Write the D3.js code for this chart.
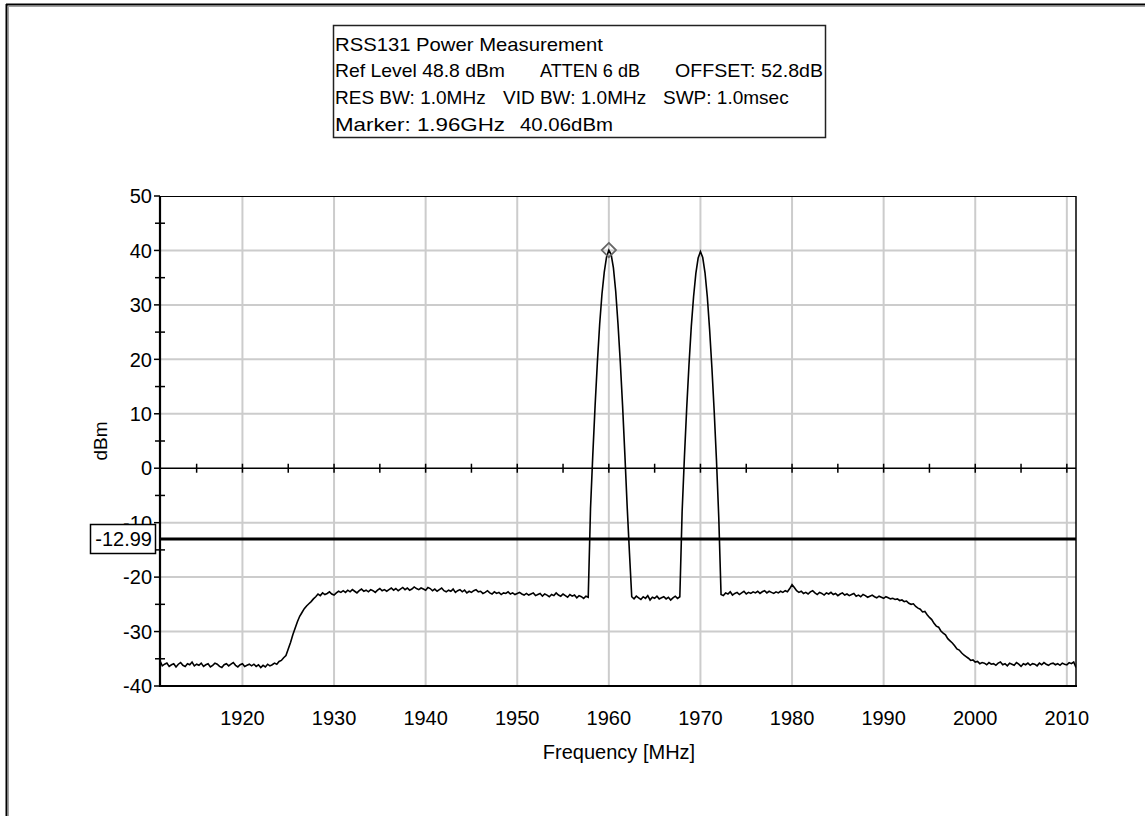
<!DOCTYPE html>
<html><head><meta charset="utf-8">
<script src="https://cdn.jsdelivr.net/npm/d3@7"></script>
<style>
body{margin:0;background:#fff}
svg{display:block}
text{font-family:"Liberation Sans",Arial,sans-serif;fill:#000}
</style>
</head><body>
<svg id="c" width="1145" height="816"></svg>
<script>
// ---- data ----
const freqStart = 1911;      // MHz, first sample
const freqStep = 0.25;       // MHz between samples
const traceDbm = [
 -35.4,-36.3,-36.0,-35.8,-36.4,-36.1,-35.9,-36.5,-36.0,-35.7,-36.2,-36.4,-35.9,-36.1,-35.6,-36.3,-36.0,-36.2,-35.8,-36.4,
 -36.1,-35.9,-36.5,-36.2,-35.8,-36.0,-36.4,-36.6,-36.1,-35.9,-36.3,-36.0,-35.7,-36.2,-36.5,-36.1,-35.9,-36.4,-36.2,-36.0,
 -36.3,-36.0,-36.4,-36.1,-36.6,-36.2,-36.5,-36.0,-36.3,-36.1,-35.8,-36.0,-35.5,-35.3,-34.8,-34.4,-33.2,-32.0,-30.6,-29.4,
 -28.2,-27.2,-26.5,-25.8,-25.3,-24.9,-24.5,-24.0,-23.6,-23.1,-23.4,-22.9,-23.2,-23.0,-22.7,-23.1,-23.3,-22.9,-22.6,-22.8,
 -22.5,-22.8,-22.4,-22.7,-22.3,-22.6,-22.9,-22.5,-22.2,-22.6,-22.4,-22.7,-22.3,-22.5,-22.8,-22.4,-22.1,-22.5,-22.3,-22.6,
 -22.3,-22.0,-22.4,-22.1,-22.5,-22.2,-21.9,-22.3,-22.0,-22.4,-22.2,-21.8,-22.1,-22.3,-22.0,-22.2,-22.4,-21.9,-22.1,-22.5,
 -22.2,-22.6,-22.3,-22.0,-22.5,-22.7,-22.4,-22.6,-22.2,-22.8,-22.5,-22.3,-22.7,-22.4,-22.9,-22.6,-22.8,-22.5,-22.3,-22.7,
 -22.6,-23.0,-22.8,-22.5,-22.9,-23.1,-22.7,-23.0,-22.8,-23.2,-22.9,-23.0,-22.7,-23.1,-22.9,-23.2,-23.0,-22.8,-23.1,-23.3,
 -23.0,-23.3,-23.1,-22.9,-23.4,-23.2,-23.0,-23.5,-23.1,-23.3,-23.6,-23.2,-23.4,-22.9,-23.3,-23.5,-23.1,-23.4,-23.7,-23.2,
 -23.5,-23.3,-23.8,-23.4,-23.6,-23.9,-23.5,-23.7,-7.4,2.5,11.5,19.5,26.5,32.0,36.0,38.8,40.06,39.3,36.8,32.5,
 26.5,19.5,11.5,2.5,-7.0,-15.5,-23.6,-24.0,-23.5,-23.8,-24.1,-23.6,-23.9,-23.4,-24.2,-23.7,-23.9,-23.5,-24.0,-23.8,
 -23.6,-24.0,-23.7,-24.2,-23.8,-23.5,-23.9,-23.6,-8.0,2.0,11.0,19.0,26.0,31.5,35.8,38.6,39.8,38.7,35.9,31.5,
 25.5,18.5,10.5,1.5,-9.0,-23.2,-23.4,-22.9,-23.1,-22.7,-23.3,-23.0,-22.8,-23.2,-22.9,-22.6,-23.1,-22.8,-23.0,-22.7,
 -22.9,-22.6,-23.0,-22.7,-22.5,-22.9,-22.6,-22.8,-23.0,-22.7,-22.9,-22.6,-22.8,-22.5,-22.7,-22.1,-21.4,-21.9,-22.5,-22.8,
 -22.6,-23.0,-22.8,-23.1,-22.7,-22.5,-22.9,-23.2,-22.8,-23.0,-23.3,-22.9,-23.1,-22.8,-23.2,-23.0,-23.4,-23.1,-22.9,-23.3,
 -23.1,-23.4,-23.2,-23.0,-23.5,-23.3,-23.6,-23.2,-23.4,-23.7,-23.5,-23.3,-23.6,-23.8,-23.5,-23.7,-23.9,-23.6,-23.8,-24.0,
 -23.9,-24.1,-24.0,-24.3,-24.2,-24.5,-24.4,-24.8,-25.0,-24.9,-25.4,-25.7,-25.9,-26.4,-26.3,-26.9,-27.4,-27.8,-28.5,-29.0,
 -29.2,-29.9,-30.3,-30.6,-31.3,-31.7,-32.1,-32.6,-33.2,-33.4,-33.9,-34.3,-34.6,-34.9,-35.3,-35.2,-35.6,-35.5,-35.9,-35.7,
 -35.8,-36.1,-35.7,-36.0,-35.9,-36.2,-35.8,-35.6,-36.1,-35.9,-36.3,-35.8,-36.0,-36.2,-35.7,-36.0,-36.4,-35.9,-36.1,-35.8,
 -36.2,-35.9,-36.0,-36.3,-35.8,-36.1,-35.7,-36.0,-36.2,-35.9,-35.8,-36.1,-35.9,-36.2,-35.8,-36.0,-36.1,-35.7,-35.9,-35.6,-36.6
];
const xDomain = [1911, 2011];
const yDomain = [-40, 50];
const xTicks = [1920,1930,1940,1950,1960,1970,1980,1990,2000,2010];
const yTicks = [-40,-30,-20,-10,0,10,20,30,40,50];
const yMinorTicks = [-35,-25,-15,-5,5,15,25,35,45];
const zeroLineTicks = [1915,1920,1925,1930,1935,1940,1945,1950,1955,1960,1965,1970,1975,1980,1985,1990,1995,2000,2005,2010];
const thresholdDbm = -12.99;
const thresholdLabel = "-12.99";
const markerPoint = {freq: 1960, dbm: 40.06};
const infoLines = [
  ["RSS131 Power Measurement"],
  ["Ref Level 48.8 dBm", "ATTEN 6 dB", "OFFSET: 52.8dB"],
  ["RES BW: 1.0MHz", "VID BW: 1.0MHz", "SWP: 1.0msec"],
  ["Marker: 1.96GHz", "40.06dBm"]
];
const xLabel = "Frequency [MHz]";
const yLabel = "dBm";

// ---- layout (segment left x, segment width or null for natural) ----
const infoSegX = [[335],[335,540,675],[335,503,663],[335,520]];
const infoSegW = [[268],[170,100,148],[null,null,null],[170,93]];
const infoBaseY = [50.5,77,104,130.5];

// ---- drawing ----
const svg = d3.select("#c");
const L = 160, R = 1076, T = 196, B = 686;
const x = d3.scaleLinear().domain(xDomain).range([L, R]);
const y = d3.scaleLinear().domain(yDomain).range([B, T]);
const data = traceDbm.map((v, i) => ({f: freqStart + i * freqStep, v}));

// outer panel frame
svg.append("line").attr("x1",6).attr("x2",1145).attr("y1",4.5).attr("y2",4.5).attr("stroke","#000").attr("stroke-width",2);
svg.append("line").attr("x1",8).attr("x2",1145).attr("y1",6.5).attr("y2",6.5).attr("stroke","#a0a0a0").attr("stroke-width",1);
svg.append("line").attr("x1",6.5).attr("x2",6.5).attr("y1",4).attr("y2",816).attr("stroke","#000").attr("stroke-width",2);
svg.append("line").attr("x1",8.5).attr("x2",8.5).attr("y1",6).attr("y2",816).attr("stroke","#a0a0a0").attr("stroke-width",1);

// info box
svg.append("rect").attr("x",333.5).attr("y",25.5).attr("width",492).attr("height",112)
  .attr("fill","#fff").attr("stroke","#222").attr("stroke-width",1.5);
const infoG = svg.append("g");
infoLines.forEach((segs, li) => {
  segs.forEach((s, si) => {
    const t = infoG.append("text").attr("x", infoSegX[li][si]).attr("y", infoBaseY[li])
      .attr("font-size","19px").text(s);
    if (infoSegW[li][si]) t.attr("textLength", infoSegW[li][si]).attr("lengthAdjust","spacingAndGlyphs");
  });
});

// grid
const grid = svg.append("g").attr("stroke","#cccccc").attr("stroke-width",2);
grid.selectAll(".gx").data(xTicks).join("line")
  .attr("x1",d=>x(d)).attr("x2",d=>x(d)).attr("y1",T).attr("y2",B);
grid.selectAll(".gy").data(yTicks.filter(d=>d!==0 && d!==yDomain[0] && d!==yDomain[1])).join("line")
  .attr("x1",L).attr("x2",R).attr("y1",d=>y(d)).attr("y2",d=>y(d));

// zero line with ticks
svg.append("line").attr("x1",L).attr("x2",R).attr("y1",y(0)).attr("y2",y(0)).attr("stroke","#000").attr("stroke-width",1.5);
svg.append("g").selectAll("line").data(zeroLineTicks).join("line")
  .attr("x1",d=>x(d)).attr("x2",d=>x(d)).attr("y1",y(0)-4.5).attr("y2",y(0)+4.5)
  .attr("stroke","#000").attr("stroke-width",1.5);

// trace
svg.append("clipPath").attr("id","pc").append("rect").attr("x",L).attr("y",T-10).attr("width",R-L).attr("height",B-T+10);
svg.append("path").datum(data)
  .attr("clip-path","url(#pc)")
  .attr("fill","none").attr("stroke","#000").attr("stroke-width",1.6)
  .attr("d", d3.line().x(d=>x(d.f)).y(d=>y(d.v)));

// threshold line
svg.append("line").attr("x1",L).attr("x2",R).attr("y1",y(thresholdDbm)).attr("y2",y(thresholdDbm))
  .attr("stroke","#000").attr("stroke-width",3);

// plot frame
svg.append("line").attr("x1",L).attr("x2",R).attr("y1",T+0.5).attr("y2",T+0.5).attr("stroke","#000").attr("stroke-width",1.2);
svg.append("line").attr("x1",R).attr("x2",R).attr("y1",T).attr("y2",B).attr("stroke","#000").attr("stroke-width",1.5);
svg.append("line").attr("x1",L-1).attr("x2",R+1).attr("y1",B).attr("y2",B).attr("stroke","#000").attr("stroke-width",2.2);
svg.append("line").attr("x1",L).attr("x2",L).attr("y1",T).attr("y2",B+1).attr("stroke","#000").attr("stroke-width",2.2);

// y axis ticks + labels
svg.append("g").selectAll("line").data(yTicks).join("line")
  .attr("x1",L-6).attr("x2",L).attr("y1",d=>y(d)).attr("y2",d=>y(d))
  .attr("stroke","#000").attr("stroke-width",1.5);
svg.append("g").selectAll("line").data(yMinorTicks).join("line")
  .attr("x1",L-5).attr("x2",L+5).attr("y1",d=>y(d)).attr("y2",d=>y(d))
  .attr("stroke","#000").attr("stroke-width",1.5);
svg.append("g").selectAll("text").data(yTicks).join("text")
  .attr("x",152).attr("y",d=>y(d)).attr("dy","0.36em")
  .attr("text-anchor","end").attr("font-size","20px").text(d=>d);

// x labels
svg.append("g").selectAll("text").data(xTicks).join("text")
  .attr("x",d=>x(d)).attr("y",725)
  .attr("text-anchor","middle").attr("font-size","20px").text(d=>d);
svg.append("text").attr("x",619).attr("y",759).attr("text-anchor","middle")
  .attr("font-size","20px").text(xLabel);
svg.append("text").attr("transform","translate(107,441) rotate(-90)").attr("text-anchor","middle")
  .attr("font-size","19px").text(yLabel);

// threshold label box (covers the -10 label as in the source)
svg.append("rect").attr("x",90.5).attr("y",524.5).attr("width",65).attr("height",29)
  .attr("fill","#fff").attr("stroke","#000").attr("stroke-width",1.5);
svg.append("text").attr("x",152).attr("y",y(thresholdDbm)).attr("dy","0.36em")
  .attr("text-anchor","end").attr("font-size","20px").text(thresholdLabel);

// marker diamond
const mx = x(markerPoint.freq), my = y(markerPoint.dbm);
svg.append("path")
  .attr("d", d3.symbol().type(d3.symbolDiamond2).size(130)())
  .attr("transform",`translate(${mx},${my})`)
  .attr("fill","none").attr("stroke","#666").attr("stroke-width",1.8);
</script>
</body></html>
